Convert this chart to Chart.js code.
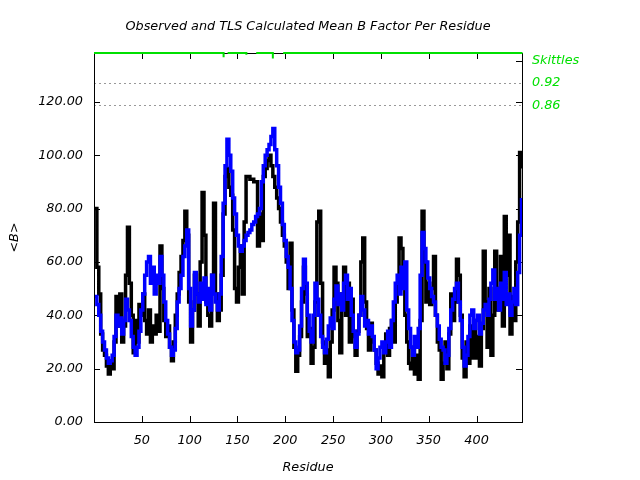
<!DOCTYPE html>
<html><head><meta charset="utf-8">
<script src="https://cdn.jsdelivr.net/npm/chart.js@4/dist/chart.umd.min.js"></script>
<style>html,body{margin:0;padding:0;background:#fff}canvas{display:block}</style>
</head><body>
<canvas id="c" width="640" height="480"></canvas>
<script>
// Observed mean B per residue (residues 1,3,5,...,447)
const observedB = [
  80, 58, 48, 33, 27,   25, 21, 18, 23, 20,   30, 47, 36, 48, 30,   36, 55, 73, 52, 40,
  26, 38, 30, 44, 40,   48, 38, 33, 42, 30,   36, 33, 40, 34, 66,   50, 38, 32, 36, 28,
  23, 30, 40, 48, 56,   62, 68, 79, 70, 45,   30, 42, 55, 48, 36,   60, 86, 70, 45, 40,
  36, 55, 82, 48, 38,   42, 55, 78, 92, 95,   88, 85, 72, 50, 45,   58, 66, 48, 75, 92,
  92, 91, 91, 90, 90,   66, 78, 68, 92, 95,   98, 100, 96, 92, 88,  84, 80, 75, 70, 66,
  60, 50, 67, 42, 28,   19, 25, 32, 45, 58,   48, 32, 35, 22, 28,   45, 75, 79, 52, 30,
  22, 27, 17, 30, 42,   58, 52, 38, 26, 48,   58, 40, 52, 30, 46,   32, 25, 34, 40, 60,
  69, 45, 35, 27, 37,   30, 27, 22, 18, 21,   17, 28, 33, 25, 35,   38, 30, 45, 51, 69,
  65, 55, 40, 30, 22,   20, 28, 18, 25, 16,   38, 79, 60, 45, 52,   44, 50, 62, 40, 30,
  27, 16, 22, 30, 20,   33, 48, 38, 45, 61,   55, 40, 24, 17, 30,   22, 36, 24, 38, 24,
  32, 21, 35, 64, 45,   28, 50, 25, 40, 64,   42, 50, 62, 36, 77,   55, 70, 33, 47, 38,
  60, 75, 101, 95
];
// TLS calculated mean B per residue (same residues)
const tlsB = [
  47, 44, 40, 34, 30,   27, 24, 22, 23, 25,   32, 40, 36, 39, 33,   38, 46, 42, 38, 32,
  28, 25, 28, 34, 42,   48, 55, 60, 62, 52,   58, 48, 55, 52, 62,   55, 45, 38, 33, 28,
  25, 27, 35, 45, 50,   55, 62, 66, 72, 50,   36, 42, 56, 48, 45,   52, 46, 54, 44, 50,
  42, 55, 48, 45, 42,   48, 62, 82, 96, 106,  100, 94, 84, 78, 70,  66, 64, 66, 68, 70,
  71, 72, 74, 75, 77,   78, 80, 90, 96, 100,  102, 104, 107, 110, 102, 96, 88, 82, 74, 68,
  62, 58, 50, 38, 30,   26, 27, 36, 50, 61,   52, 40, 34, 30, 40,   52, 46, 40, 32, 28,
  26, 31, 36, 39, 35,   46, 51, 44, 48, 42,   52, 55, 46, 50, 40,   34, 28, 33, 40, 47,
  42, 36, 38, 33, 36,   32, 27, 20, 24, 28,   30, 26, 30, 34, 28,   38, 45, 52, 55, 48,
  58, 50, 60, 42, 35,   28, 25, 32, 28, 35,   55, 71, 65, 60, 54,   50, 47, 45, 40, 36,
  31, 28, 27, 22, 25,   35, 42, 46, 50, 52,   45, 38, 28, 21, 25,   32, 40, 42, 35, 38,
  40, 33, 37, 42, 44,   40, 46, 52, 57, 46,   50, 42, 52, 46, 56,   44, 48, 40, 45, 50,
  44, 56, 70, 84
];
const firstResidue = 1, residueStep = 2;
const residues = observedB.map((_, i) => firstResidue + residueStep * i);

// Skittles track along the top edge (null = gap)
const skittlesResidues = [0, 135.5, 135.5, 136, 139.7, 159.3, 159.3, 160, 169.6, 187, 187, 188, 197.8, 448];
const skittlesValues   = [138.3, 138.3, 136.7, null, 138.3, 138.3, 137.6, null, 138.3, 138.3, 136.2, null, 138.3, 138.3];

const xTickValues = [50, 100, 150, 200, 250, 300, 350, 400];
const yTickValues = [0, 20, 40, 60, 80, 100, 120];
const rightTickValues = [118.6, 127.0, 135.3];
const rightTickLabels = ['0.86', '0.92', 'Skittles'];

const titleText = 'Observed and TLS Calculated Mean B Factor Per Residue';
const FONT = {family: '"DejaVu Sans"', size: 12.8, style: 'italic'};
const GREEN = '#00e000';

const framePlugin = {
  id: 'frame',
  beforeDatasetsDraw(chart) {
    const {ctx, chartArea: a, scales} = chart;
    ctx.save();
    ctx.strokeStyle = '#000';
    ctx.lineWidth = 1;
    ctx.strokeRect(a.left + 0.5, a.top + 0.5, a.right - a.left, a.bottom - a.top);
    const L = 6;
    ctx.beginPath();
    xTickValues.forEach(v => {
      const px = Math.round(scales.x.getPixelForValue(v)) + 0.5;
      ctx.moveTo(px, a.bottom); ctx.lineTo(px, a.bottom - L);
      ctx.moveTo(px, a.top); ctx.lineTo(px, a.top + L);
    });
    yTickValues.concat([135.3]).forEach(v => {
      const py = Math.round(scales.y.getPixelForValue(v)) + 0.5;
      if (v !== 135.3) { ctx.moveTo(a.left, py); ctx.lineTo(a.left + L, py); }
      ctx.moveTo(a.right, py); ctx.lineTo(a.right - L, py);
    });
    ctx.stroke();
    ctx.restore();
  },
  afterDraw(chart) {
    const {ctx, chartArea: a} = chart;
    ctx.save();
    ctx.font = 'italic 12.8px "DejaVu Sans"';
    ctx.fillStyle = '#000';
    ctx.textAlign = 'center';
    ctx.textBaseline = 'middle';
    ctx.fillText(titleText, (a.left + a.right) / 2, 27);
    ctx.restore();
  }
};

Chart.defaults.font = FONT;
Chart.defaults.color = '#000';

new Chart(document.getElementById('c'), {
  type: 'line',
  data: {
    datasets: [
      {
        label: 'Skittles',
        data: skittlesResidues.map((r, i) => ({x: r, y: skittlesValues[i]})),
        borderColor: GREEN, borderWidth: 2, pointRadius: 0, spanGaps: false, order: 0, clip: 4
      },
      {
        label: 'TLS',
        data: residues.map((r, i) => ({x: r, y: tlsB[i]})),
        borderColor: '#0000ff', borderWidth: 3.5, pointRadius: 0, stepped: true, order: 1
      },
      {
        label: 'Observed',
        data: residues.map((r, i) => ({x: r, y: observedB[i]})),
        borderColor: '#000000', borderWidth: 3.5, pointRadius: 0, stepped: true, order: 2
      }
    ]
  },
  options: {
    responsive: false,
    animation: false,
    devicePixelRatio: 1,
    layout: {padding: {top: 53, left: 0, right: 0, bottom: 0}},
    plugins: {legend: {display: false}, title: {display: false}, tooltip: {enabled: false}},
    scales: {
      x: {
        type: 'linear', position: 'bottom', min: 0, max: 447.5,
        afterBuildTicks: s => { s.ticks = xTickValues.map(v => ({value: v})); },
        afterFit: s => { s.height = 58; },
        ticks: {autoSkip: false, maxRotation: 0, padding: 11, callback: v => String(v), font: FONT},
        grid: {display: false, drawTicks: false},
        border: {display: false},
        title: {display: true, text: 'Residue', font: FONT, padding: {top: 0, bottom: 5}}
      },
      y: {
        type: 'linear', position: 'left', min: 0, max: 138.3,
        afterBuildTicks: s => { s.ticks = yTickValues.map(v => ({value: v})); },
        afterFit: s => { s.width = 94; },
        ticks: {autoSkip: false, padding: 11, callback: v => Number(v).toFixed(2), font: FONT},
        grid: {display: false, drawTicks: false},
        border: {display: false},
        title: {display: true, text: '<B>', font: FONT, padding: {top: 7, bottom: 0}}
      },
      y2: {
        type: 'linear', position: 'right', min: 0, max: 138.3,
        afterBuildTicks: s => { s.ticks = rightTickValues.map(v => ({value: v})); },
        afterFit: s => { s.width = 118; },
        ticks: {autoSkip: false, padding: 10, color: GREEN, font: FONT,
                callback: v => rightTickLabels[rightTickValues.indexOf(v)]},
        grid: {display: true, drawOnChartArea: true, drawTicks: false, lineWidth: 1,
               color: c => (c.tick && c.tick.value === 135.3) ? 'rgba(0,0,0,0)' : '#999999'},
        border: {display: false, dash: [2, 3]}
      }
    }
  },
  plugins: [framePlugin]
});
</script>
</body></html>
